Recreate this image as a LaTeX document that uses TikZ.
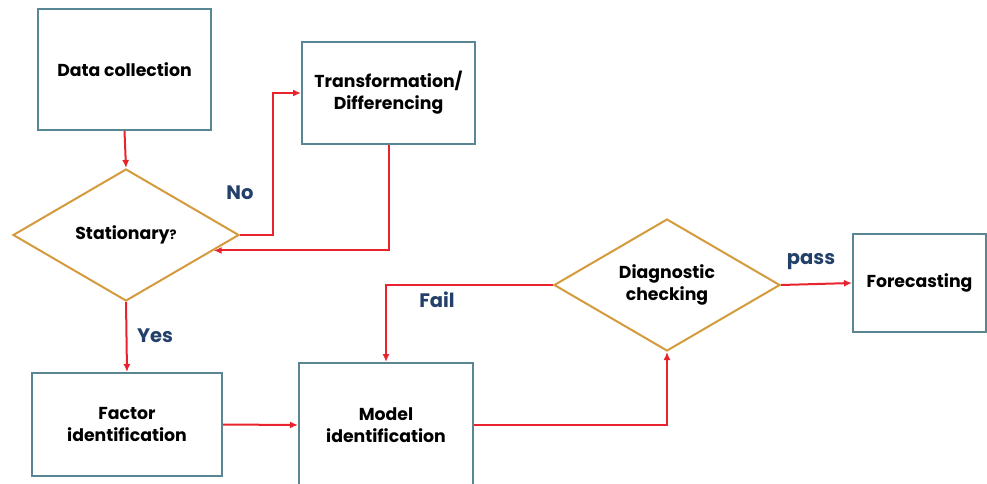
\documentclass[tikz,border=0pt]{standalone}
\usepackage{fontspec}
\setmainfont{Poppins}
\usetikzlibrary{shapes.geometric,arrows.meta}
\definecolor{boxline}{HTML}{5A8593}
\definecolor{decline}{HTML}{D49A3C}
\definecolor{flowred}{HTML}{E8232B}
\definecolor{labblue}{HTML}{23406A}
\tikzset{
  stepbox/.style={draw=boxline, line width=2pt, fill=white, inner sep=0pt,
    align=center, font=\fontsize{17.3}{22}\selectfont\bfseries},
  decision/.style={draw=decline, line width=2pt, fill=white, shape=diamond,
    aspect=1.71, inner sep=0pt, minimum width=226pt, minimum height=132pt,
    align=center, font=\fontsize{17.3}{22}\selectfont\bfseries},
  flow/.style={draw=flowred, line width=2pt, -{Latex[length=8pt,width=7pt]}},
  branch/.style={text=labblue, font=\fontsize{19.5}{22}\selectfont\bfseries}
}
\begin{document}
\begin{tikzpicture}[x=1pt,y=-1pt]
  \useasboundingbox (0,0) rectangle (987,483);
  % process steps
  \node[stepbox, minimum width=173pt, minimum height=121pt] (data) at (124.5,69.5) {Data collection};
  \node[stepbox, minimum width=173pt, minimum height=102pt] (trans) at (388.5,93) {Transformation/\\Differencing};
  \node[stepbox, minimum width=190pt, minimum height=103pt] (fact) at (127,424.5) {Factor\\identification};
  \node[stepbox, minimum width=174pt, minimum height=124pt] (model) at (386,425) {Model\\identification};
  \node[stepbox, minimum width=133pt, minimum height=98pt] (fore) at (919.5,283) {Forecasting};
  % decisions
  \node[decision] (stat) at (126,235) {Stationary{\fontsize{13}{13}\selectfont ?}};
  \node[decision] (diag) at (667,285) {Diagnostic\\checking};
  % connectors
  \draw[flow] (data.south) -- (stat.north);
  \draw[flow] (stat.east) -- ++(33,0) |- (trans.west);
  \draw[flow] (trans.south) |- (stat.-10);
  \draw[flow] (stat.south) -- (fact.north);
  \draw[flow] (fact.east) -- (model.west);
  \draw[flow] (model.east) -| (diag.south);
  \draw[flow] (diag.west) -| (model.north);
  \draw[flow] (diag.east) -- (fore.west);
  % branch labels
  \node[branch] (no) at (240,193) {No};
  \node[branch] (yes) at (155,336) {Yes};
  \node[branch] (fail) at (437,300) {Fail};
  \node[branch] (pass) at (811,262) {pass};
\end{tikzpicture}
\end{document}
